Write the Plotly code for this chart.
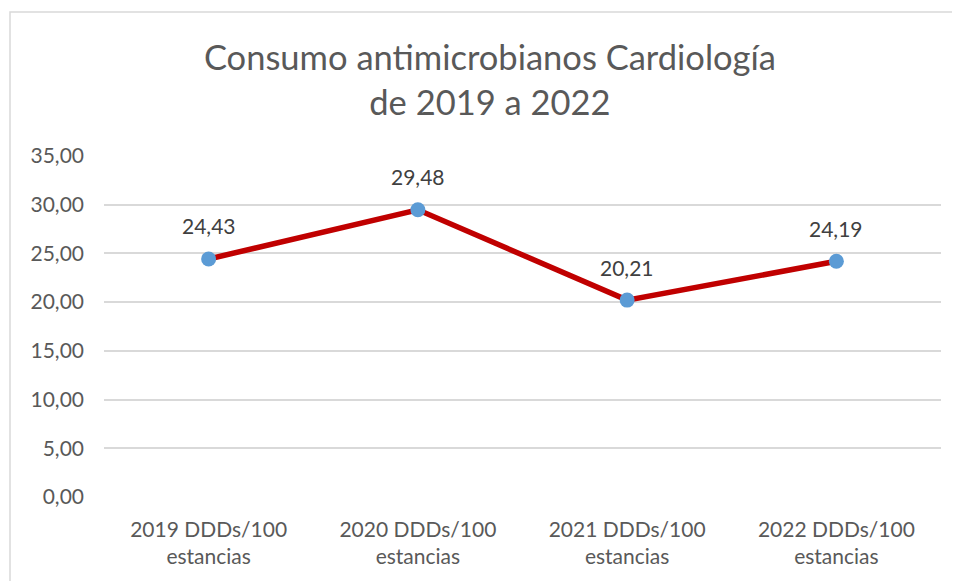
import plotly.graph_objects as go

categories = ["2019 DDDs/100<br>estancias", "2020 DDDs/100<br>estancias",
              "2021 DDDs/100<br>estancias", "2022 DDDs/100<br>estancias"]
values = [24.43, 29.48, 20.21, 24.19]
tick_vals = [0, 5, 10, 15, 20, 25, 30, 35]
tick_text = ["0,00", "5,00", "10,00", "15,00", "20,00", "25,00", "30,00", "35,00"]
labels = [f"{v:.2f}".replace(".", ",") for v in values]

W, H = 960, 581
L, R, T, B = 96, 27, 148, 92
PW, PH = W - L - R, H - T - B

fig = go.Figure()
fig.add_trace(go.Scatter(
    x=list(range(len(categories))), y=values, mode="lines+markers",
    line=dict(color="#C00000", width=5.5),
    marker=dict(color="#5B9BD5", size=15),
    cliponaxis=False, showlegend=False,
))

annotations = [dict(x=i, y=v, text=t, showarrow=False, xref="x", yref="y",
                    yanchor="middle", yshift=33,
                    font=dict(size=21, color="#404040", family="Lato"))
               for i, (v, t) in enumerate(zip(values, labels))]

fig.update_layout(
    width=W, height=H,
    margin=dict(l=L, r=R, t=T, b=B),
    paper_bgcolor="white", plot_bgcolor="white",
    font=dict(family="Lato", color="#595959", size=21),
    title=dict(text="Consumo antimicrobianos Cardiología<br>de 2019 a 2022",
               x=0.502, xanchor="center", y=0.893, yanchor="middle",
               font=dict(size=34.5, color="#595959", family="Lato")),
    xaxis=dict(range=[-0.5, 3.5], tickvals=list(range(len(categories))),
               ticktext=categories, showgrid=False, zeroline=False,
               showline=False, ticks="", ticklabelstandoff=18,
               tickfont=dict(size=21, color="#595959")),
    yaxis=dict(range=[0, 35], tickvals=tick_vals, ticktext=tick_text,
               showgrid=True, gridcolor="#D9D9D9", gridwidth=2, zeroline=False,
               showline=False, ticks="", ticklabelstandoff=19,
               tickfont=dict(size=21, color="#595959")),
    annotations=annotations,
    shapes=[dict(type="rect", xref="paper", yref="paper",
                 x0=(2 - L) / PW, x1=1.2,
                 y0=-0.4, y1=1 + (T - 4) / PH,
                 line=dict(color="#D9D9D9", width=1.5), layer="below")],
)

fig.write_html("out.html")
